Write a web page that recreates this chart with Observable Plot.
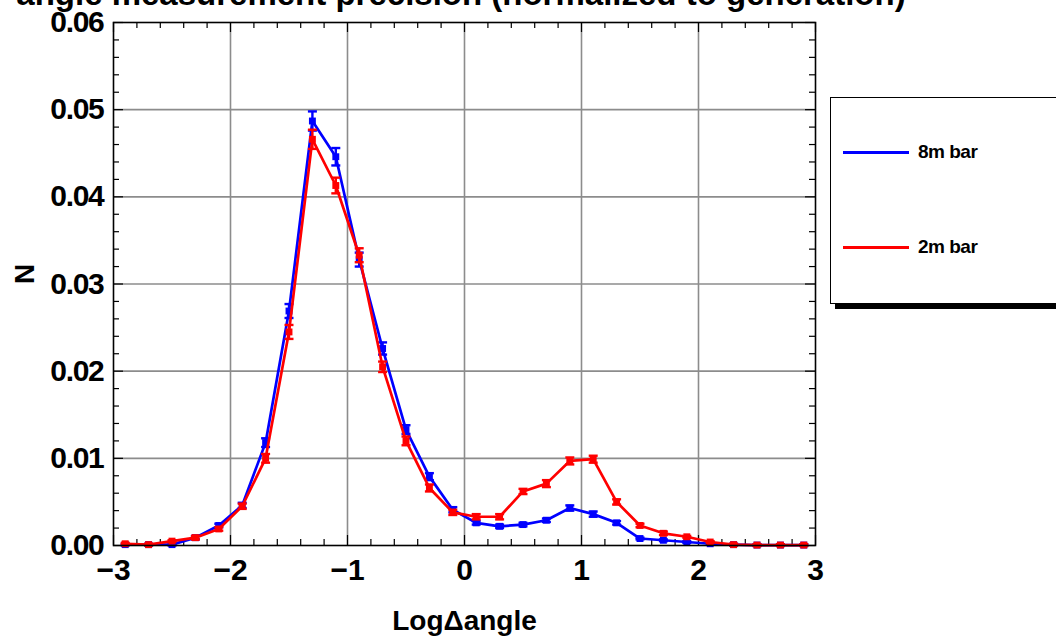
<!DOCTYPE html>
<html>
<head>
<meta charset="utf-8">
<script src="https://cdn.jsdelivr.net/npm/d3@7"></script>
<script src="https://cdn.jsdelivr.net/npm/@observablehq/plot@0.6"></script>
<style>
  body { margin: 0; background: #fff; overflow: hidden; }
  #wrap { position: relative; width: 1056px; height: 640px; overflow: hidden;
          font-family: "Liberation Sans", Arial, sans-serif; font-weight: bold; color: #000; }
  #chart { position: absolute; left: 0; top: 0; }
  #title { position: absolute; left: 0; width: 922px; top: -23px; text-align: center;
           font-size: 33px; line-height: 1; white-space: nowrap; }
  #legend { position: absolute; left: 830px; top: 97px; width: 260px; height: 205px;
            border: 1.5px solid #000; box-shadow: 5px 5px 0 #000; background: #fff; }
  .item { position: absolute; left: 12px; height: 20px; display: flex; align-items: center; }
  .swatch { width: 66px; height: 3px; margin-right: 9px; }
  .item span { font-size: 19px; letter-spacing: -0.5px; }
  #chart g[aria-label="y-axis tick label"] text { letter-spacing: -1.3px; }
</style>
</head>
<body>
<div id="wrap">
  <div id="chart"></div>
  <div id="title">angle measurement precision (normalized to generation)</div>
  <div id="legend"></div>
</div>
<script>
// Bin centres of log10(Δangle)
const logAngle = [-2.9, -2.7, -2.5, -2.3, -2.1, -1.9, -1.7, -1.5, -1.3, -1.1,
                  -0.9, -0.7, -0.5, -0.3, -0.1, 0.1, 0.3, 0.5, 0.7, 0.9,
                  1.1, 1.3, 1.5, 1.7, 1.9, 2.1, 2.3, 2.5, 2.7, 2.9];

// Normalized counts, 8 m bar
const n8m = [0.0001, 0.0001, 0.0001, 0.0009, 0.0023, 0.0046, 0.0118, 0.0269, 0.0487, 0.0446,
             0.0328, 0.0226, 0.0133, 0.0079, 0.0041, 0.0026, 0.0022, 0.0024, 0.0029, 0.0043,
             0.0036, 0.0026, 0.0008, 0.0006, 0.0004, 0.0002, 0.0001, 0.00005, 0.00005, 0.00005];
const err8m = [0.0001, 0.0001, 0.0001, 0.0002, 0.0002, 0.0003, 0.0005, 0.0008, 0.0011, 0.0010,
               0.0008, 0.0007, 0.0005, 0.0004, 0.0003, 0.0002, 0.0002, 0.0002, 0.0002, 0.0003,
               0.0003, 0.0002, 0.0001, 0.0001, 0.0001, 0.0001, 0.0001, 0.0001, 0.0001, 0.0001];

// Normalized counts, 2 m bar
const n2m = [0.0002, 0.0001, 0.0005, 0.0009, 0.0019, 0.0045, 0.0100, 0.0245, 0.0466, 0.0413,
             0.0333, 0.0205, 0.0120, 0.0066, 0.0038, 0.0033, 0.0033, 0.0062, 0.0071, 0.0097,
             0.0099, 0.0050, 0.0023, 0.0014, 0.0010, 0.0004, 0.0001, 0.00005, 0.00005, 0.00005];
const err2m = [0.0001, 0.0001, 0.0001, 0.0002, 0.0002, 0.0003, 0.0005, 0.0008, 0.0011, 0.0009,
               0.0008, 0.0006, 0.0005, 0.0004, 0.0003, 0.0003, 0.0003, 0.0003, 0.0004, 0.0004,
               0.0004, 0.0003, 0.0002, 0.0002, 0.0001, 0.0001, 0.0001, 0.0001, 0.0001, 0.0001];

const seriesNames = ["8m bar", "2m bar"];
const seriesColors = ["#0000ff", "#ff0000"];

const xTicks = [-3, -2, -1, 0, 1, 2, 3];
const yTicks = [0, 0.01, 0.02, 0.03, 0.04, 0.05, 0.06];
const xLabel = "LogΔangle";
const yLabel = "N";

const W = 1056, H = 640;
const M = {top: 22, right: 241, bottom: 95, left: 113};
const innerW = W - M.left - M.right;
const innerH = H - M.top - M.bottom;

const rows = (values, errs, name) =>
  logAngle.map((x, i) => ({x, n: values[i], err: errs[i], series: name}));
const series = [rows(n8m, err8m, seriesNames[0]), rows(n2m, err2m, seriesNames[1])];

// Horizontal cap drawn as a dot symbol
const cap = {
  draw(context, size) {
    const r = Math.sqrt(size / Math.PI);
    context.moveTo(-r, 0);
    context.lineTo(r, 0);
  }
};

const xMinor = d3.range(-30, 31, 2).map(d => d / 10).filter(d => !xTicks.includes(d));
const yMinor = d3.range(0, 61, 2).map(d => d / 1000).filter(d => !yTicks.includes(d));
const fmtX = d => d < 0 ? "\u2212" + Math.abs(d) : String(d);

const seriesMarks = series.flatMap((data, k) => {
  const c = seriesColors[k];
  return [
    Plot.line(data, {x: "x", y: "n", stroke: c, strokeWidth: 2.7}),
    Plot.ruleX(data, {x: "x", y1: d => d.n - d.err, y2: d => d.n + d.err, stroke: c, strokeWidth: 2.4}),
    Plot.dot(data, {x: "x", y: d => d.n + d.err, symbol: cap, r: 4.5, stroke: c, fill: "none", strokeWidth: 2.4}),
    Plot.dot(data, {x: "x", y: d => d.n - d.err, symbol: cap, r: 4.5, stroke: c, fill: "none", strokeWidth: 2.4}),
    Plot.dot(data, {x: "x", y: "n", symbol: "square", r: 3.9, fill: c, stroke: "none"})
  ];
});

const chart = Plot.plot({
  width: W,
  height: H,
  marginTop: M.top,
  marginRight: M.right,
  marginBottom: M.bottom,
  marginLeft: M.left,
  style: {fontFamily: "'Liberation Sans', Arial, sans-serif", fontWeight: "bold", color: "#000", background: "#fff"},
  x: {domain: [-3, 3]},
  y: {domain: [0, 0.06]},
  marks: [
    Plot.gridX(xTicks.slice(1, -1), {stroke: "#8c8c8c", strokeOpacity: 1, strokeWidth: 1.6}),
    Plot.gridY(yTicks.slice(1, -1), {stroke: "#8c8c8c", strokeOpacity: 1, strokeWidth: 1.6}),
    // inward frame ticks on all four sides
    Plot.tickX(xMinor, {x: d => d, insetTop: innerH - 6, stroke: "#000", strokeWidth: 1.2}),
    Plot.tickX(xMinor, {x: d => d, insetBottom: innerH - 6, stroke: "#000", strokeWidth: 1.2}),
    Plot.tickX(xTicks, {x: d => d, insetTop: innerH - 10, stroke: "#000", strokeWidth: 1.2}),
    Plot.tickX(xTicks, {x: d => d, insetBottom: innerH - 10, stroke: "#000", strokeWidth: 1.2}),
    Plot.tickY(yMinor, {y: d => d, insetRight: innerW - 6, stroke: "#000", strokeWidth: 1.2}),
    Plot.tickY(yMinor, {y: d => d, insetLeft: innerW - 6, stroke: "#000", strokeWidth: 1.2}),
    Plot.tickY(yTicks, {y: d => d, insetRight: innerW - 10, stroke: "#000", strokeWidth: 1.2}),
    Plot.tickY(yTicks, {y: d => d, insetLeft: innerW - 10, stroke: "#000", strokeWidth: 1.2}),
    ...seriesMarks,
    Plot.frame({stroke: "#000", strokeWidth: 1.6}),
    Plot.axisX(xTicks, {tickSize: 0, tickPadding: 13, tickFormat: fmtX, fontSize: 30, fontWeight: "bold", label: null}),
    Plot.axisY(yTicks, {tickSize: 0, tickPadding: 10, tickFormat: d3.format(".2f"), fontSize: 30, fontWeight: "bold", label: null}),
    Plot.text([xLabel], {frameAnchor: "bottom", dy: 84, fontSize: 28, fontWeight: "bold", lineAnchor: "bottom"}),
    Plot.text([yLabel], {frameAnchor: "left", dx: -88, rotate: -90, fontSize: 28, fontWeight: "bold"})
  ]
});
document.getElementById("chart").append(chart);

// Legend box
const legend = document.getElementById("legend");
const legendTops = [44, 139];
seriesNames.forEach((name, k) => {
  const item = document.createElement("div");
  item.className = "item";
  item.style.top = legendTops[k] + "px";
  const sw = document.createElement("div");
  sw.className = "swatch";
  sw.style.background = seriesColors[k];
  const label = document.createElement("span");
  label.textContent = name;
  item.append(sw, label);
  legend.append(item);
});
</script>
</body>
</html>
